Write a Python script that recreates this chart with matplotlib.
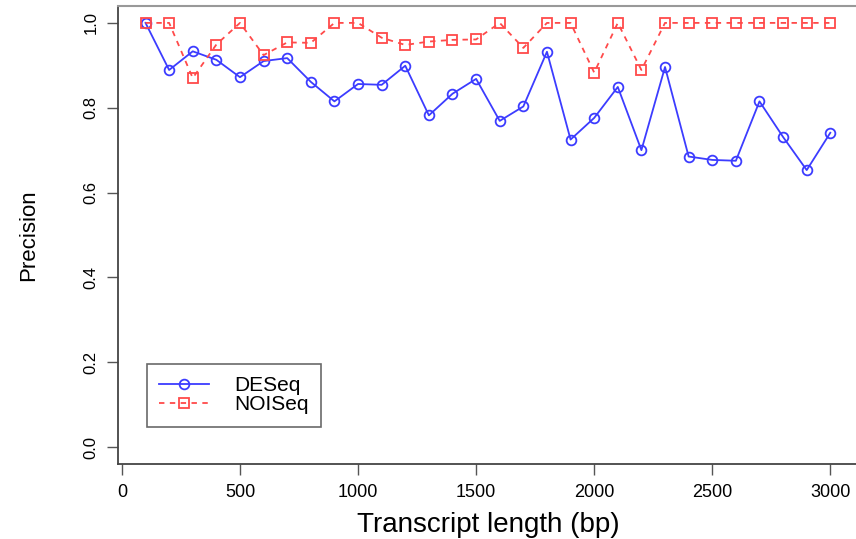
import matplotlib
matplotlib.use("Agg")
import matplotlib.pyplot as plt

plt.rcParams['font.family'] = ['Liberation Sans', 'DejaVu Sans']

lengths = [100, 200, 300, 400, 500, 600, 700, 800, 900, 1000,
           1100, 1200, 1300, 1400, 1500, 1600, 1700, 1800, 1900, 2000,
           2100, 2200, 2300, 2400, 2500, 2600, 2700, 2800, 2900, 3000]
deseq = [1.000, 0.889, 0.933, 0.913, 0.872, 0.910, 0.917, 0.861, 0.815, 0.856,
         0.854, 0.899, 0.782, 0.833, 0.868, 0.769, 0.803, 0.932, 0.725, 0.776,
         0.849, 0.700, 0.896, 0.685, 0.677, 0.675, 0.815, 0.731, 0.653, 0.741]
noiseq = [1.000, 1.000, 0.870, 0.949, 1.000, 0.924, 0.954, 0.953, 1.000, 1.000,
          0.965, 0.948, 0.956, 0.960, 0.961, 1.000, 0.941, 1.000, 1.000, 0.883,
          1.000, 0.889, 1.000, 1.000, 1.000, 1.000, 1.000, 1.000, 1.000, 1.000]
xticks = [0, 500, 1000, 1500, 2000, 2500, 3000]
yticks = [0.0, 0.2, 0.4, 0.6, 0.8, 1.0]
ytick_labels = ['0.0', '0.2', '0.4', '0.6', '0.8', '1.0']

fig = plt.figure(figsize=(8.56, 5.39), dpi=100)
ax = fig.add_axes([0.138, 0.139, 0.864, 0.850])

blue = '#3c3cff'
red = '#ff4a4a'
ax.plot(lengths, deseq, color=blue, lw=1.3, marker='o', ms=7, mfc='none',
        mec=blue, mew=1.3, label='DESeq')
ax.plot(lengths, noiseq, color=red, lw=1.3, ls=(0, (3, 3)), marker='s', ms=6.5,
        mfc='none', mec=red, mew=1.3, label='NOISeq')

ax.set_xlim(-16, 3116)
ax.set_ylim(-0.04, 1.04)
ax.set_xticks(xticks)
ax.set_xticklabels([str(t) for t in xticks])
ax.set_yticks(yticks)
ax.set_yticklabels(ytick_labels, rotation=90, va='center')
ax.tick_params(axis='both', length=8, width=1, color='#555555', pad=6)
ax.tick_params(axis='x', labelsize=13)
ax.tick_params(axis='y', labelsize=12)

for s in ['left', 'bottom']:
    ax.spines[s].set_color('#444444')
    ax.spines[s].set_linewidth(1.3)
ax.spines['top'].set_color('#999999')
ax.spines['top'].set_linewidth(1.5)
ax.spines['right'].set_color('#999999')

ax.set_xlabel('Transcript length (bp)', fontsize=20, labelpad=8)
ax.set_ylabel('Precision', fontsize=16, labelpad=32)

leg = ax.legend(loc='lower left', bbox_to_anchor=(0.039, 0.081), borderaxespad=0,
                fontsize=15, frameon=True, fancybox=False, edgecolor='#444444',
                handlelength=2.4, borderpad=0.6, labelspacing=0.0, handletextpad=1.2)
leg.get_frame().set_linewidth(1.2)

fig.savefig('out.png', dpi=100)
